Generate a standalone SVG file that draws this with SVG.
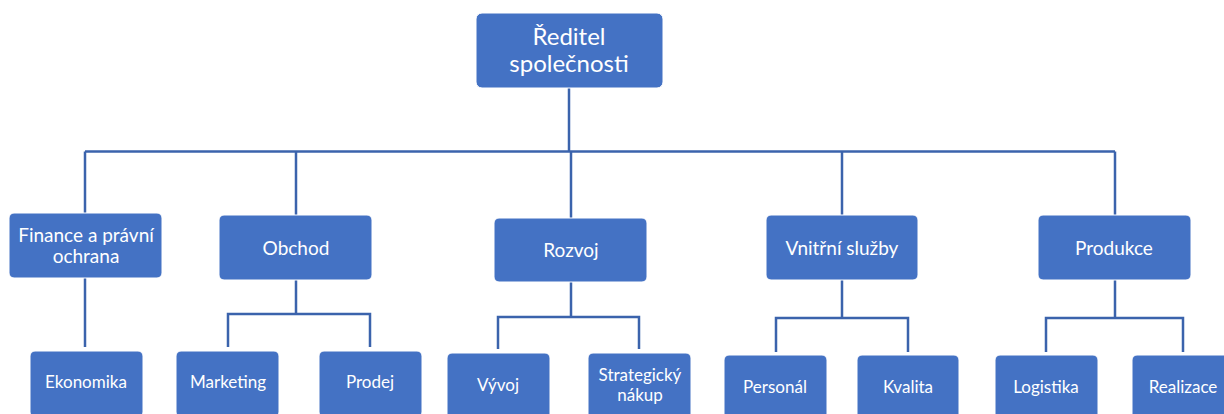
<svg xmlns="http://www.w3.org/2000/svg" width="1224" height="414" viewBox="0 0 1224 414">
  <style>
    .box { fill: #4472C4; stroke: #ffffff; stroke-width: 1; }
    .lbl { fill: #ffffff; font-family: Lato, "Open Sans", "Liberation Sans", sans-serif; text-anchor: middle; }
    .l1 { font-size: 24px; }
    .l2 { font-size: 19px; }
    .l3 { font-size: 17px; }
    .conn { fill: none; stroke: #3B63AC; stroke-width: 2.5; }
  </style>
  <rect width="1224" height="414" fill="#ffffff"/>

  <!-- connectors -->
  <g id="connectors" class="conn">
    <path d="M569,88 V151.5"/>
    <path d="M85,151.5 H1115"/>
    <path d="M85,151.5 V213"/>
    <path d="M296,151.5 V215"/>
    <path d="M571,151.5 V218"/>
    <path d="M842,151.5 V215"/>
    <path d="M1115,151.5 V215"/>
    <path d="M85,278 V347"/>
    <path d="M296,280 V314 M228,347 V314 H370 V347"/>
    <path d="M571,282 V317 M498,349 V317 H639 V349"/>
    <path d="M842,280 V318 M776,352 V318 H908 V352"/>
    <path d="M1115,280 V318 M1046,352 V318 H1183 V352"/>
  </g>

  <!-- top level -->
  <g id="reditel">
    <rect class="box" x="476" y="13" width="187" height="75" rx="6"/>
    <text class="lbl l1" x="569" y="45">Ředitel<tspan x="569" dy="26.5">společnosti</tspan></text>
  </g>

  <!-- departments -->
  <g id="finance">
    <rect class="box" x="9" y="213" width="153" height="65" rx="5"/>
    <text class="lbl l2" x="86" y="242">Finance a právní<tspan x="86" dy="21">ochrana</tspan></text>
  </g>
  <g id="obchod">
    <rect class="box" x="219" y="215" width="153" height="65" rx="5"/>
    <text class="lbl l2" x="296" y="255">Obchod</text>
  </g>
  <g id="rozvoj">
    <rect class="box" x="494" y="218" width="153" height="64" rx="5"/>
    <text class="lbl l2" x="571" y="257">Rozvoj</text>
  </g>
  <g id="vnitrni-sluzby">
    <rect class="box" x="766" y="215" width="152" height="65" rx="5"/>
    <text class="lbl l2" x="842" y="255">Vnitřní služby</text>
  </g>
  <g id="produkce">
    <rect class="box" x="1038" y="215" width="153" height="65" rx="5"/>
    <text class="lbl l2" x="1114" y="255">Produkce</text>
  </g>

  <!-- sub-departments -->
  <g id="ekonomika">
    <rect class="box" x="30" y="351" width="113" height="66" rx="5"/>
    <text class="lbl l3" x="86" y="388">Ekonomika</text>
  </g>
  <g id="marketing">
    <rect class="box" x="176" y="351" width="103" height="66" rx="5"/>
    <text class="lbl l3" x="228" y="388">Marketing</text>
  </g>
  <g id="prodej">
    <rect class="box" x="319" y="351" width="103" height="66" rx="5"/>
    <text class="lbl l3" x="370" y="388">Prodej</text>
  </g>
  <g id="vyvoj">
    <rect class="box" x="447" y="353" width="103" height="66" rx="5"/>
    <text class="lbl l3" x="498" y="391">Vývoj</text>
  </g>
  <g id="strategicky-nakup">
    <rect class="box" x="588" y="353" width="103" height="66" rx="5"/>
    <text class="lbl l3" x="640" y="381">Strategický<tspan x="640" dy="20">nákup</tspan></text>
  </g>
  <g id="personal">
    <rect class="box" x="724" y="355" width="103" height="66" rx="5"/>
    <text class="lbl l3" x="775" y="393">Personál</text>
  </g>
  <g id="kvalita">
    <rect class="box" x="857" y="355" width="102" height="66" rx="5"/>
    <text class="lbl l3" x="908" y="393">Kvalita</text>
  </g>
  <g id="logistika">
    <rect class="box" x="995" y="355" width="103" height="66" rx="5"/>
    <text class="lbl l3" x="1046" y="393">Logistika</text>
  </g>
  <g id="realizace">
    <rect class="box" x="1132" y="355" width="103" height="66" rx="5"/>
    <text class="lbl l3" x="1183" y="393">Realizace</text>
  </g>
</svg>
